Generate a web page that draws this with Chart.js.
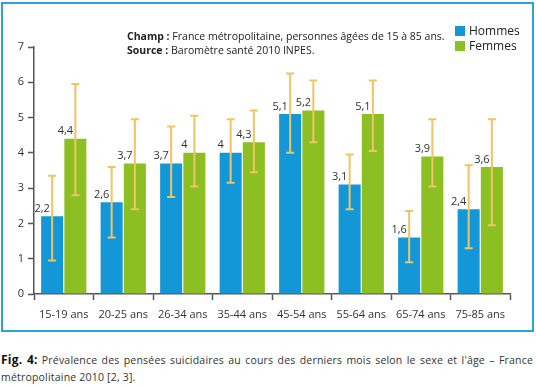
<!DOCTYPE html>
<html>
<head>
<meta charset="utf-8">
<script src="https://cdn.jsdelivr.net/npm/chart.js@4/dist/chart.umd.min.js"></script>
<style>
  body { margin: 0; background: #fff; font-family: "Open Sans", sans-serif; }
  #frame { position: absolute; left: 1px; top: 2px; width: 533px; height: 330px; box-sizing: border-box; border: 2px solid #2ba3d6; }
  #wrap { position: absolute; left: 0; top: 0; width: 536px; height: 335px; }
  #note { position: absolute; left: 127px; top: 29px; font-size: 10.5px; line-height: 14px; color: #222; }
  #legend { position: absolute; left: 455px; top: 23px; font-size: 12px; line-height: 15px; color: #222; }
  #legend div { height: 15px; }
  #legend span.sw { display: inline-block; width: 10px; height: 10px; margin-right: 4px; vertical-align: -1px; }
  #caption { position: absolute; left: 1px; top: 351px; width: 532px; font-size: 10.5px; line-height: 17px; color: #333;
             text-align: justify; text-align-last: left; letter-spacing: 0.2px; }
  #caption b { font-size: 12px; color: #111; }
</style>
</head>
<body>
<div id="frame"></div>
<div id="wrap"><canvas id="chart" width="536" height="335"></canvas></div>
<div id="note"><b>Champ :</b> France métropolitaine, personnes âgées de 15 à 85 ans.<br><b>Source :</b> Baromètre santé 2010 INPES.</div>
<div id="legend"></div>
<div id="caption"><b>Fig. 4:</b> Prévalence des pensées suicidaires au cours des derniers mois selon le sexe et l'âge – France métropolitaine 2010 [2, 3].</div>
<script>
const ageGroups = ["15-19 ans", "20-25 ans", "26-34 ans", "35-44 ans", "45-54 ans", "55-64 ans", "65-74 ans", "75-85 ans"];
const hommes = [2.2, 2.6, 3.7, 4, 5.1, 3.1, 1.6, 2.4];
const femmes = [4.4, 3.7, 4, 4.3, 5.2, 5.1, 3.9, 3.6];
// intervalles de confiance
const hommesLow = [0.95, 1.6, 2.75, 3.15, 4.0, 2.4, 0.9, 1.3];
const hommesHigh = [3.35, 3.6, 4.75, 4.95, 6.25, 3.95, 2.35, 3.65];
const femmesLow = [2.8, 2.4, 3.05, 3.45, 4.3, 4.05, 3.05, 1.95];
const femmesHigh = [5.95, 4.95, 5.05, 5.2, 6.05, 6.05, 4.95, 4.95];
const yTicks = [0, 1, 2, 3, 4, 5, 6, 7];

var blue = "#1497d6";
var green = "#8cbf22";
var errColor = "#f0c465";
var axisColor = "#555";

// barres d'erreur + étiquettes de valeur
var errorBars = {
    id: "errorBars",
    afterDatasetsDraw: function(chart) {
        var ctx = chart.ctx;
        var yScale = chart.scales.y;
        var ranges = [[hommesLow, hommesHigh], [femmesLow, femmesHigh]];
        ctx.save();
        chart.data.datasets.forEach(function(ds, di) {
            var meta = chart.getDatasetMeta(di);
            meta.data.forEach(function(bar, i) {
                var yl = yScale.getPixelForValue(ranges[di][0][i]);
                var yh = yScale.getPixelForValue(ranges[di][1][i]);
                ctx.strokeStyle = errColor;
                ctx.lineWidth = 2;
                ctx.beginPath();
                ctx.moveTo(bar.x, yl); ctx.lineTo(bar.x, yh);
                ctx.moveTo(bar.x - 4, yl); ctx.lineTo(bar.x + 4, yl);
                ctx.moveTo(bar.x - 4, yh); ctx.lineTo(bar.x + 4, yh);
                ctx.stroke();

                ctx.fillStyle = "#333";
                ctx.font = "11px 'Open Sans'";
                ctx.textAlign = "center";
                ctx.textBaseline = "bottom";
                ctx.fillText(String(ds.data[i]).replace(".", ","), bar.x - 10, bar.y - 2);
            });
        });
        ctx.restore();
    }
};

function buildLegend(chart) {
    var html = "";
    chart.data.datasets.forEach(function(ds) {
        html += '<div><span class="sw" style="background:' + ds.backgroundColor + '"></span>' + ds.label + '</div>';
    });
    document.getElementById("legend").innerHTML = html;
}

var chartObj = new Chart(document.getElementById("chart").getContext("2d"), {
    type: "bar",
    data: {
        labels: ageGroups,
        datasets: [
            { label: "Hommes", data: hommes, backgroundColor: blue, categoryPercentage: 0.78, barPercentage: 0.95 },
            { label: "Femmes", data: femmes, backgroundColor: green, categoryPercentage: 0.78, barPercentage: 0.95 }
        ]
    },
    options: {
        responsive: false,
        animation: false,
        layout: { padding: { left: 0, top: 47, right: 26, bottom: 0 } },
        plugins: { legend: { display: false }, tooltip: { enabled: false } },
        scales: {
            x: {
                grid: { offset: true, drawOnChartArea: false, tickLength: 6, color: axisColor, tickWidth: 1.5 },
                border: { color: axisColor, width: 1.5 },
                ticks: { color: "#333", font: { family: "Open Sans", size: 11 }, padding: 8, maxRotation: 0 },
                afterFit: function(scale) { scale.height = 41; }
            },
            y: {
                min: 0,
                max: 7,
                afterBuildTicks: function(scale) { scale.ticks = yTicks.map(function(v) { return { value: v }; }); },
                grid: { drawOnChartArea: false, tickLength: 6, color: axisColor, tickWidth: 1.5 },
                border: { color: axisColor, width: 1.5 },
                ticks: { color: "#333", font: { family: "Open Sans", size: 11 }, padding: 4 },
                afterFit: function(scale) { scale.width = 34; }
            }
        }
    },
    plugins: [errorBars]
});
buildLegend(chartObj);
</script>
</body>
</html>
